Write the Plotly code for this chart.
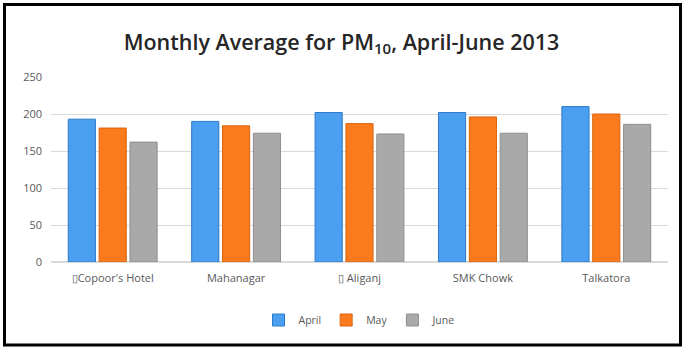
import plotly.graph_objects as go

categories = ["\u25afCopoor's Hotel", "Mahanagar", "\u25af Aliganj", "SMK Chowk", "Talkatora"]
april = [193, 190, 202, 202, 210]
may = [181, 184, 187, 196, 200]
june = [162, 174, 173, 174, 186]
y_ticks = [0, 50, 100, 150, 200, 250]

W, H = 683, 347
L, R, T, B = 51, 683 - 668, 77, 347 - 262
pw, ph = W - L - R, H - T - B

def px(x):
    return (x - L) / pw

def py(y):
    return (H - B - y) / ph

fig = go.Figure()
fig.add_trace(go.Bar(name="April", x=categories, y=april,
                     marker=dict(color="#4b9ff0", line=dict(color="#2f78c8", width=1))))
fig.add_trace(go.Bar(name="May", x=categories, y=may,
                     marker=dict(color="#fb7a1c", line=dict(color="#d8640f", width=1))))
fig.add_trace(go.Bar(name="June", x=categories, y=june,
                     marker=dict(color="#a9a9a9", line=dict(color="#8f8f8f", width=1))))

fig.update_layout(
    width=W, height=H,
    margin=dict(l=L, r=R, t=T, b=B),
    paper_bgcolor="white", plot_bgcolor="white",
    barmode="group", bargap=0.25, bargroupgap=0.12,
    font=dict(family="Open Sans, Liberation Sans, sans-serif", color="#595959", size=11),
    title=dict(text="Monthly Average for PM<sub>10</sub>, April-June 2013",
               x=0.5, xanchor="center", y=1 - 42 / H, yanchor="middle",
               font=dict(family="Open Sans, sans-serif", size=21.5, color="#262626", weight=600)),
    xaxis=dict(showgrid=False, showline=False, ticks="", tickfont=dict(size=11, color="#595959"),
               ticklabelstandoff=8),
    yaxis=dict(range=[0, 250], tickvals=y_ticks, showgrid=True, gridcolor="#d9d9d9",
               gridwidth=1, zeroline=True, zerolinecolor="#d9d9d9", showline=False,
               tickfont=dict(size=11, color="#595959"), ticklabelstandoff=8),
    legend=dict(orientation="h", x=0.5, xanchor="center", y=py(320), yanchor="middle",
                font=dict(size=10.5, color="#595959"), itemwidth=30, traceorder="normal"),
    shapes=[dict(type="rect", xref="paper", yref="paper",
                 x0=px(4.5), x1=px(680.5), y0=py(345), y1=py(4.5),
                 line=dict(color="black", width=3), fillcolor="rgba(0,0,0,0)")],
)

fig.write_html("out.html")
